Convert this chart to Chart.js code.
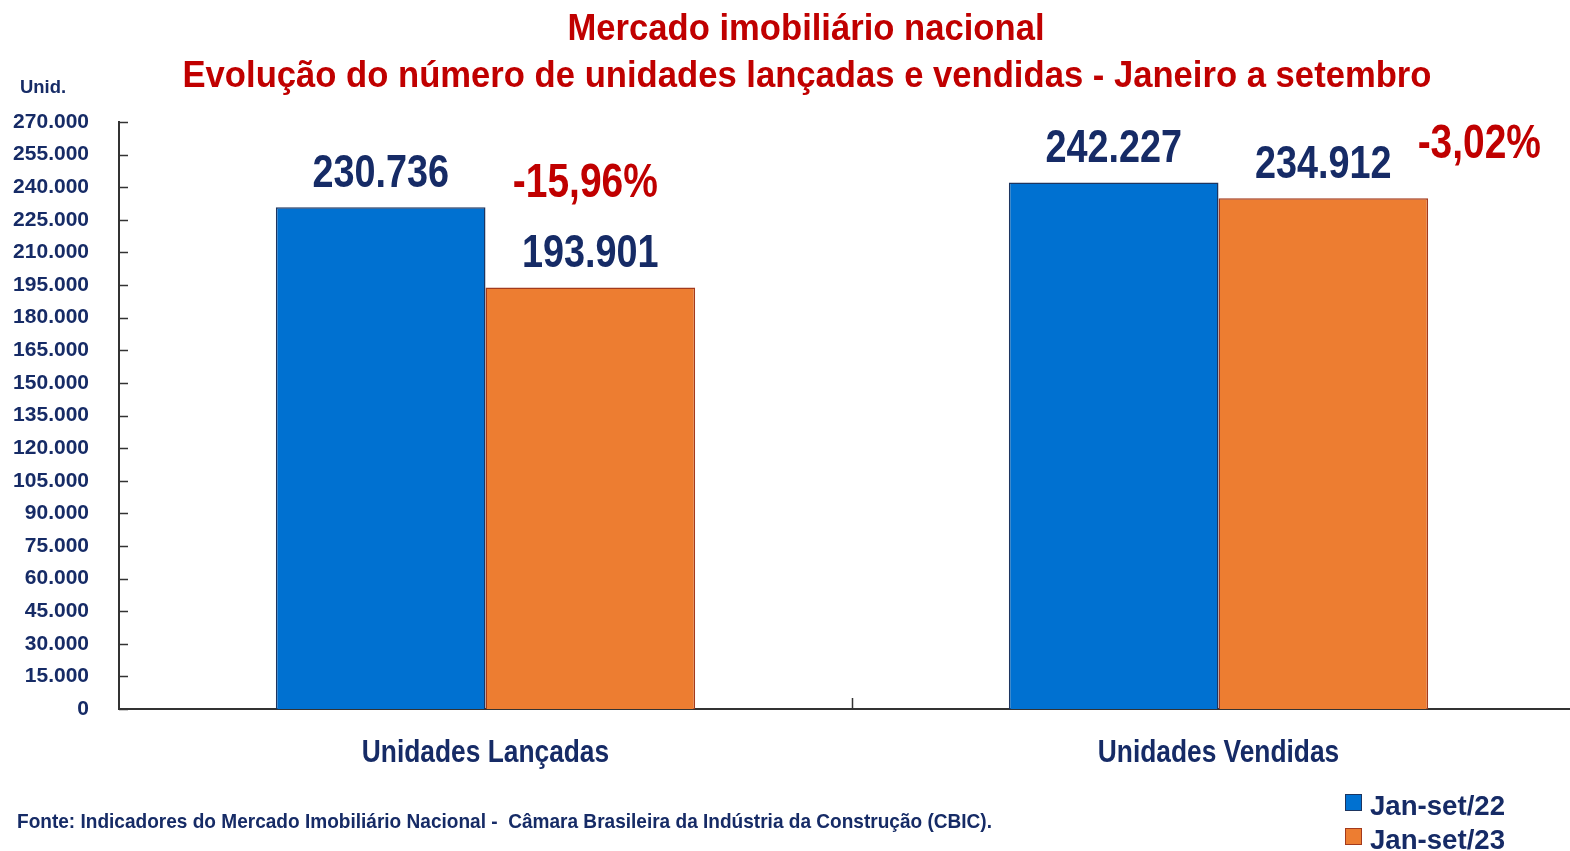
<!DOCTYPE html>
<html lang="pt-BR">
<head>
<meta charset="UTF-8">
<title>Mercado imobiliário nacional</title>
<style>
    * { margin: 0; padding: 0; }
    body { background: #fff; width: 1570px; height: 851px; overflow: hidden; }
    #grafico { position: absolute; left: 0; top: 0; }
</style>
</head>
<body>
<canvas id="grafico" width="1600" height="851"></canvas>
<script src="https://cdn.jsdelivr.net/npm/chart.js"></script>
<script>
// dados do gráfico
const titulo1 = 'Mercado imobiliário nacional';
const titulo2 = 'Evolução do número de unidades lançadas e vendidas - Janeiro a setembro';
const categorias = ['Unidades Lançadas', 'Unidades Vendidas'];
const series = ['Jan-set/22', 'Jan-set/23'];
const valores22 = [230736, 242227];
const valores23 = [193901, 234912];
const variacao = ['-15,96%', '-3,02%'];
const eixoMin = 0, eixoMax = 270000, eixoPasso = 15000;
const unidade = 'Unid.';
const fonte = 'Fonte: Indicadores do Mercado Imobiliário Nacional -  Câmara Brasileira da Indústria da Construção (CBIC).';

const AZUL = '#0071D1', LARANJA = '#ED7D31', AZUL_ESCURO = '#162B66', VERMELHO = '#C00000';

// verifica se a fonte estreita existe
function temFonte(nome) {
    const c = document.createElement('canvas').getContext('2d');
    c.font = 'bold 40px monospace';
    const a = c.measureText('270.000 Unidades').width;
    c.font = 'bold 40px "' + nome + '", monospace';
    return c.measureText('270.000 Unidades').width !== a;
}
const estreita = temFonte('Liberation Sans Narrow');
const FAMILIA = estreita ? '"Liberation Sans Narrow", "Liberation Sans", Arial, sans-serif' : '"Liberation Sans", Arial, sans-serif';
const BASE = '"Liberation Sans", Arial, sans-serif';

function fmt(v) {
    return String(v).replace(/\B(?=(\d{3})+(?!\d))/g, '.');
}

// texto comprimido na horizontal (visual de Arial Narrow)
function escreve(ctx, str, x, base, cap, cor, alinha, largura) {
    const tam = cap / 0.716;
    ctx.save();
    ctx.font = 'bold ' + tam + 'px ' + BASE;
    let sx = 0.82;
    if (largura) sx = largura / ctx.measureText(str).width;
    ctx.translate(x, base);
    ctx.scale(sx, 1);
    ctx.textAlign = alinha || 'left';
    ctx.textBaseline = 'alphabetic';
    ctx.fillStyle = cor;
    ctx.fillText(str, 0, 0);
    ctx.restore();
}

const textos = {
    id: 'textos',
    afterDraw(chart) {
        const ctx = chart.ctx;
        const area = chart.chartArea;
        const y = chart.scales.y, x = chart.scales.x;

        // marcas internas dos eixos
        ctx.save();
        ctx.strokeStyle = '#333';
        ctx.lineWidth = 1.5;
        y.ticks.forEach(t => {
            const py = Math.round(y.getPixelForValue(t.value)) + 0.5;
            ctx.beginPath();
            ctx.moveTo(area.left, py);
            ctx.lineTo(area.left + 9, py);
            ctx.stroke();
        });
        for (let i = 0; i < categorias.length - 1; i++) {
            const px = Math.round((x.getPixelForValue(i) + x.getPixelForValue(i + 1)) / 2) + 0.5;
            ctx.beginPath();
            ctx.moveTo(px, area.bottom);
            ctx.lineTo(px, area.bottom - 11);
            ctx.stroke();
        }
        ctx.restore();

        // nomes das categorias
        categorias.forEach((c, i) => {
            escreve(ctx, c, x.getPixelForValue(i), area.bottom + 53, 23, AZUL_ESCURO, 'center');
        });

        // rótulos de valores
        chart.data.datasets.forEach((ds, d) => {
            chart.getDatasetMeta(d).data.forEach((bar, i) => {
                escreve(ctx, fmt(ds.data[i]), bar.x, bar.y - 20, 33, AZUL_ESCURO, 'center');
            });
        });

        // variação percentual, ao lado das barras de 2023
        const laranja = chart.getDatasetMeta(1).data;
        const desloc = [[-5, 90], [156, 40]];
        variacao.forEach((t, i) => {
            escreve(ctx, t, laranja[i].x + desloc[i][0], laranja[i].y - desloc[i][1], 34, VERMELHO, 'center');
        });

        // títulos
        escreve(ctx, titulo1, 806, 40, 27, VERMELHO, 'center', 477);
        escreve(ctx, titulo2, 807, 87, 27, VERMELHO, 'center', 1249);
        escreve(ctx, unidade, 20, 93, 13, AZUL_ESCURO, 'left', 46);
        escreve(ctx, fonte, 17, 828, 14, AZUL_ESCURO, 'left', 975);

        // legenda
        chart.data.datasets.forEach((ds, d) => {
            const ly = 794 + d * 34;
            ctx.fillStyle = ds.backgroundColor;
            ctx.fillRect(1345, ly, 17, 17);
            ctx.strokeStyle = ds.borderColor;
            ctx.lineWidth = 1;
            ctx.strokeRect(1345.5, ly + 0.5, 16, 16);
            escreve(ctx, ds.label, 1370, ly + 21, 20, AZUL_ESCURO, 'left', 135);
        });
    }
};

new Chart(document.getElementById('grafico'), {
    type: 'bar',
    data: {
        labels: categorias,
        datasets: [
            { label: series[0], data: valores22, backgroundColor: AZUL, borderColor: '#1D3560', borderWidth: 1.5 },
            { label: series[1], data: valores23, backgroundColor: LARANJA, borderColor: '#A33A1C', borderWidth: 1.5 }
        ]
    },
    options: {
        responsive: false,
        animation: false,
        layout: { padding: { top: 122, right: 15, left: 0, bottom: 0 } },
        datasets: { bar: { categoryPercentage: 0.572, barPercentage: 1.0 } },
        plugins: { legend: { display: false }, title: { display: false }, tooltip: { enabled: false } },
        scales: {
            x: {
                grid: { display: false },
                border: { display: true, color: '#333', width: 2 },
                ticks: { display: false },
                afterFit(s) { s.height = 142; }
            },
            y: {
                min: eixoMin,
                max: eixoMax,
                grid: { display: false, drawTicks: false },
                border: { display: true, color: '#333', width: 2 },
                ticks: {
                    stepSize: eixoPasso,
                    color: AZUL_ESCURO,
                    font: { family: FAMILIA, size: estreita ? 24 : 21, weight: 'bold' },
                    padding: 30,
                    callback: v => fmt(v)
                },
                afterFit(s) { s.width = 119; }
            }
        }
    },
    plugins: [textos]
});
</script>
</body>
</html>
